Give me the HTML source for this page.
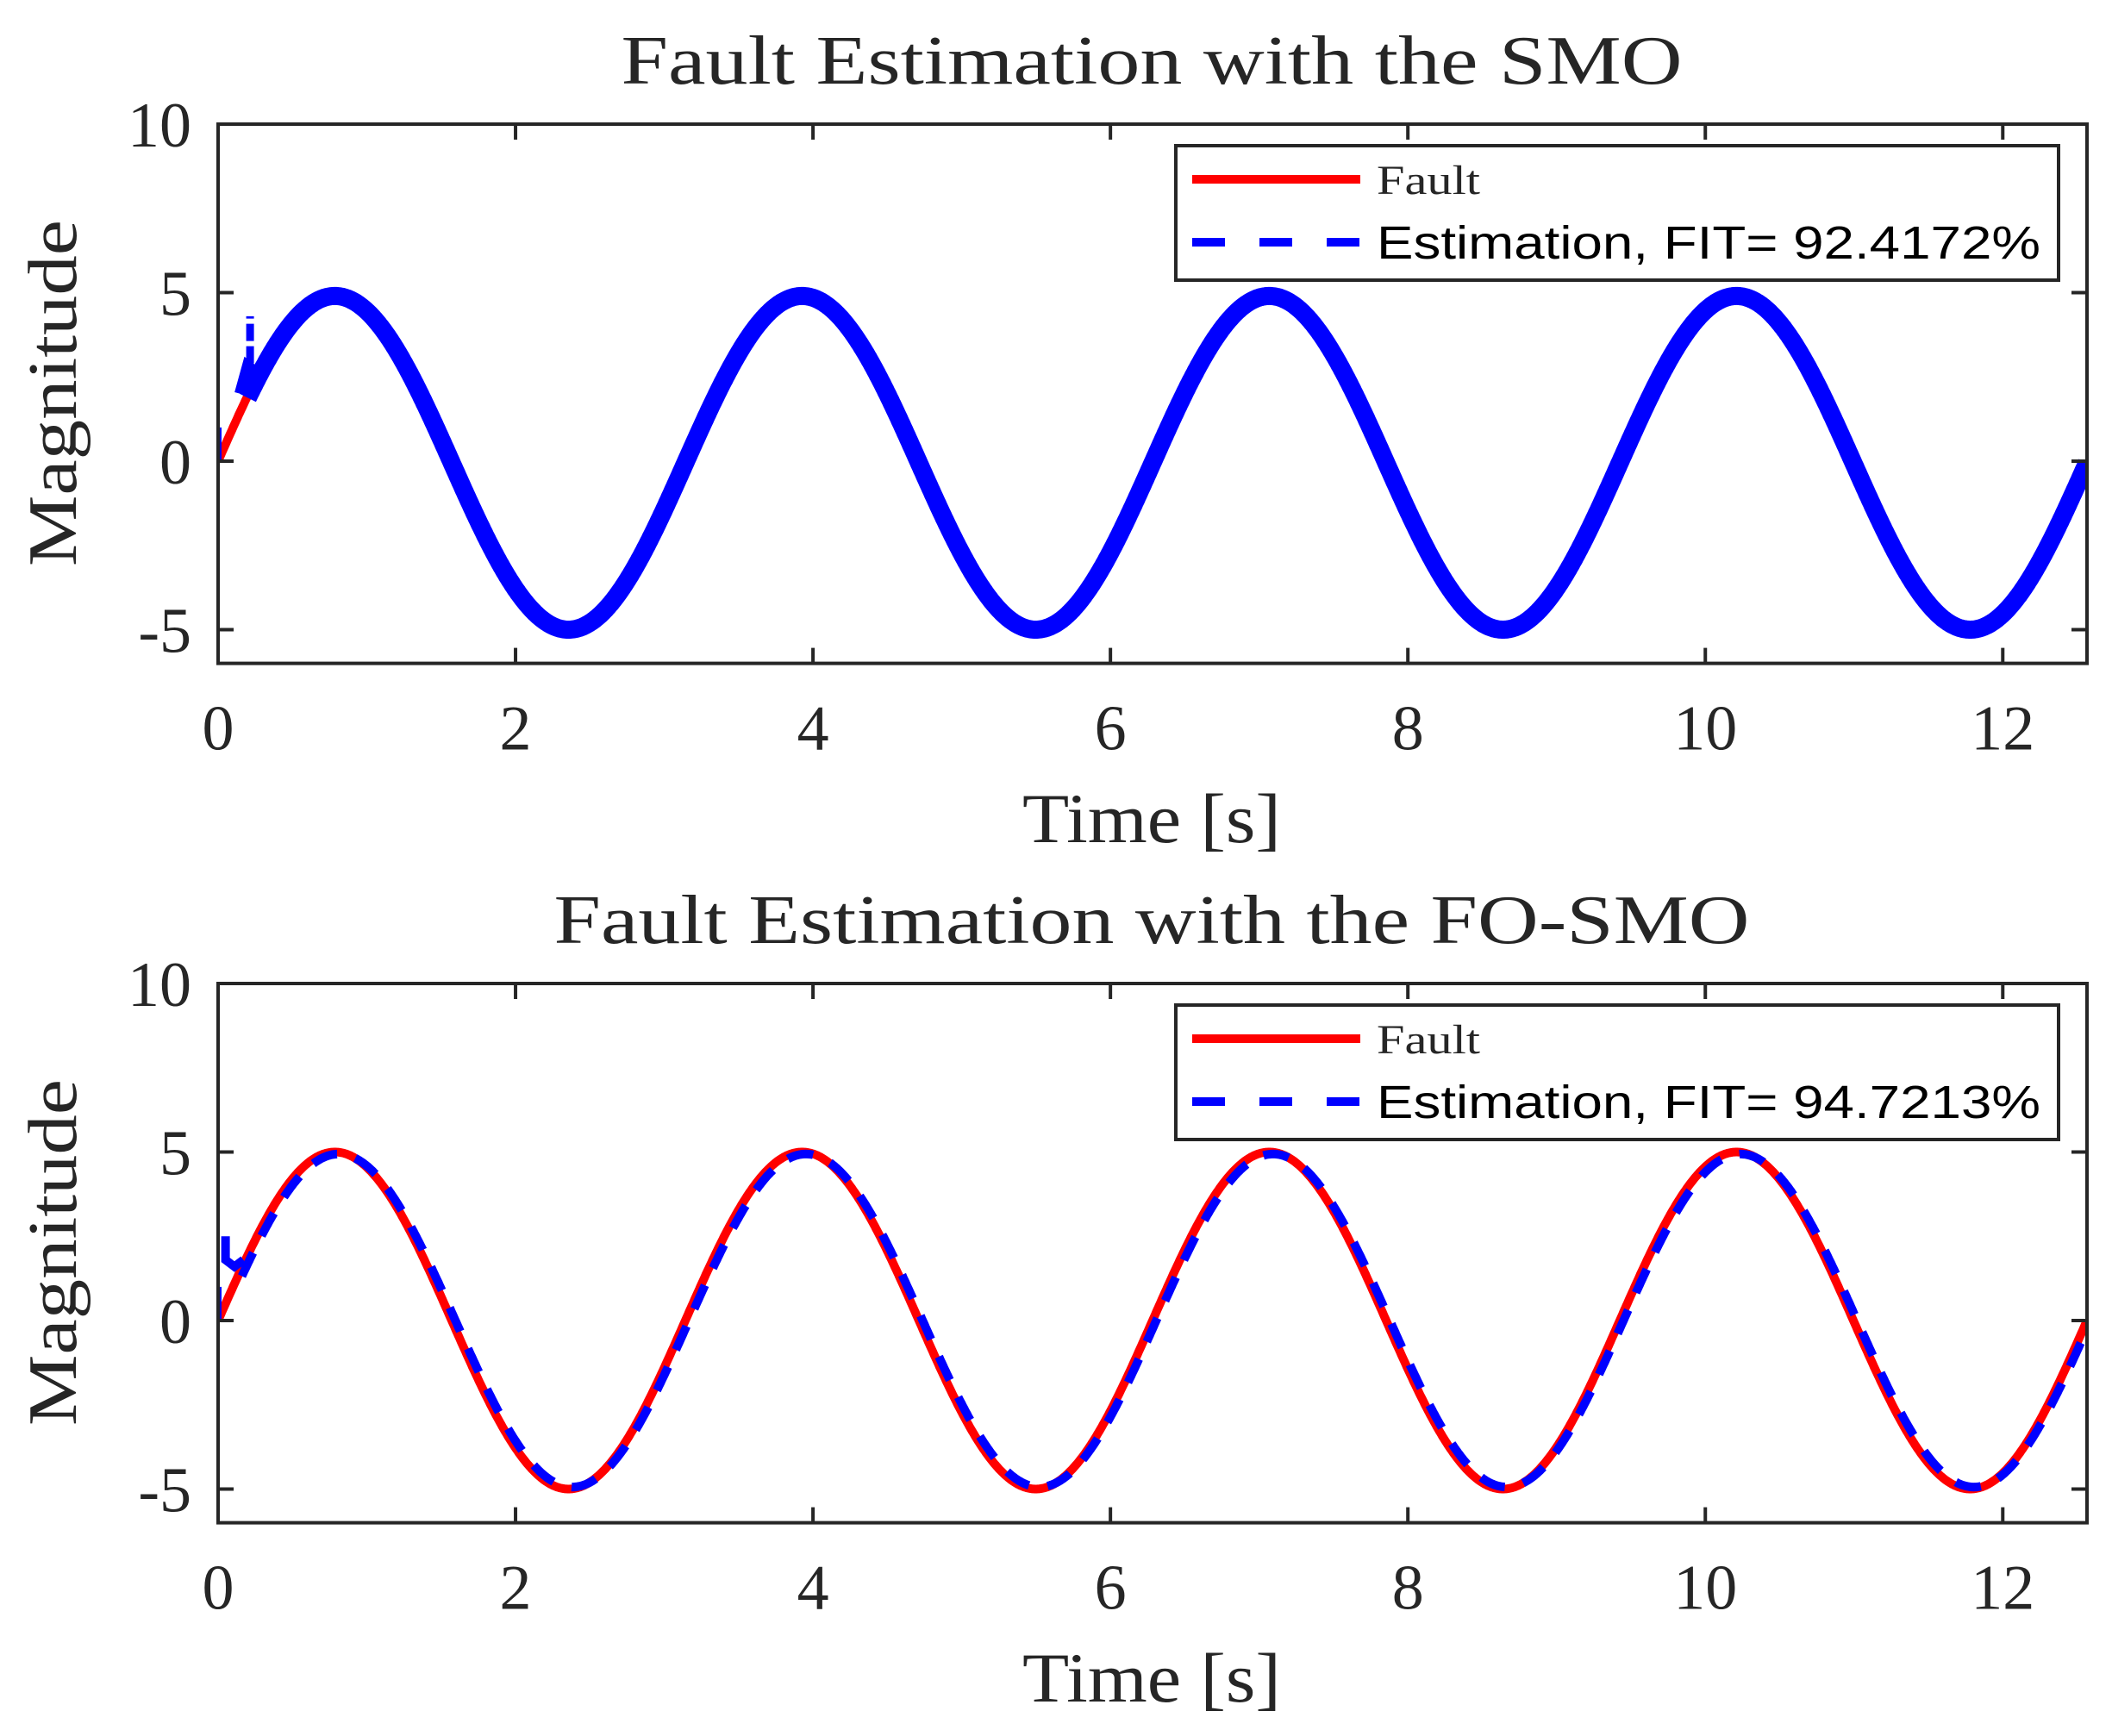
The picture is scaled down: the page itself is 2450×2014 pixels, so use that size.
<!DOCTYPE html>
<html><head><meta charset="utf-8"><style>
html,body{margin:0;padding:0;background:#fff;}
svg{display:block;}
.serif{font-family:"Liberation Serif","DejaVu Serif",serif;fill:#262626;}
.sans{font-family:"Liberation Sans","DejaVu Sans",sans-serif;fill:#000;}
</style></head><body>
<svg id="s" width="2450" height="2014" viewBox="0 0 2450 2014" xmlns="http://www.w3.org/2000/svg">
<rect width="2450" height="2014" fill="#fff"/>
<g id="g1"></g>
<g id="g2"></g>
</svg>
<script>
var NS="http://www.w3.org/2000/svg";
function el(p,t,a,txt){var e=document.createElementNS(NS,t);for(var k in a)e.setAttribute(k,a[k]);if(txt!==undefined)e.textContent=txt;p.appendChild(e);return e;}
var X0=253,X1=2421,XS=(X1-X0)/(4*Math.PI);
function panel(g,top,title,titleW,fit,mode){
  var YS=39.1;var bot=top+16*YS;
  function px(t){return X0+t*XS;} function py(v){return top+(10-v)*YS;}
  var id="c"+top;
  var d=el(g,"defs",{});var cp=el(d,"clipPath",{id:id});el(cp,"rect",{x:X0,y:top,width:X1-X0,height:bot-top});
  var cg=el(g,"g",{"clip-path":"url(#"+id+")"});
  var pts=[];for(var i=0;i<=2000;i++){var t=i/2000*4*Math.PI;pts.push(px(t).toFixed(1)+","+py(5*Math.sin(2*t)).toFixed(1));}
  var fault="M"+pts.join("L");
  if(mode==1){
    el(cg,"path",{d:fault,fill:"none",stroke:"#ff0000","stroke-width":10});
    var e=[];for(var i=0;i<=2000;i++){var t=0.2+i/2000*(4*Math.PI-0.2);e.push(px(t).toFixed(1)+","+py(4.95*Math.sin(2*t)-0.05).toFixed(1));}
    el(cg,"path",{d:"M"+e.join("L"),fill:"none",stroke:"#0000ff","stroke-width":21});
    el(cg,"rect",{x:X0-6,y:py(1),width:10,height:py(0)-py(1),fill:"#0000ff"});
    el(cg,"path",{d:"M"+px(0.15)+","+py(2.0)+"L"+px(0.2)+","+py(2.8)+"L"+px(0.26)+","+py(2.6),fill:"none",stroke:"#0000ff","stroke-width":14});
    el(cg,"path",{d:"M"+px(0.215)+","+py(2.9)+"L"+px(0.215)+","+py(4.3),fill:"none",stroke:"#0000ff","stroke-width":9,"stroke-dasharray":"20,6"});
  }else{
    el(cg,"path",{d:fault,fill:"none",stroke:"#ff0000","stroke-width":10});
    var e=[];for(var i=0;i<=2000;i++){var t=0.16+i/2000*(4*Math.PI-0.16);e.push(px(t).toFixed(1)+","+py(4.94*Math.sin(2*(t-0.025))).toFixed(1));}
    el(cg,"path",{d:"M"+e.join("L"),fill:"none",stroke:"#0000ff","stroke-width":10,"stroke-dasharray":"30,22"});
    el(cg,"rect",{x:X0-6,y:py(1),width:10,height:py(0)-py(1),fill:"#0000ff"});
    el(cg,"path",{d:"M"+px(0.05)+","+py(2.5)+"L"+px(0.05)+","+py(1.8)+"L"+px(0.11)+","+py(1.6)+"L"+px(0.17)+","+py(1.8),fill:"none",stroke:"#0000ff","stroke-width":10});
  }
  el(g,"rect",{x:X0,y:top,width:X1-X0,height:bot-top,fill:"none",stroke:"#262626","stroke-width":4});
  for(var k=0;k<=12;k+=2){var x=px(k);
    el(g,"line",{x1:x,y1:bot,x2:x,y2:bot-18,stroke:"#262626","stroke-width":4});
    el(g,"line",{x1:x,y1:top,x2:x,y2:top+18,stroke:"#262626","stroke-width":4});
    el(g,"text",{x:x,y:bot+100,"text-anchor":"middle","font-size":74,class:"serif"},String(k));}
  [-5,0,5,10].forEach(function(v){var y=py(v);
    el(g,"line",{x1:X0,y1:y,x2:X0+18,y2:y,stroke:"#262626","stroke-width":4});
    el(g,"line",{x1:X1,y1:y,x2:X1-18,y2:y,stroke:"#262626","stroke-width":4});
    el(g,"text",{x:222,y:y+26,"text-anchor":"end","font-size":74,class:"serif"},String(v));});
  el(g,"text",{x:1336,y:top-47,"text-anchor":"middle","font-size":80,class:"serif",textLength:titleW,lengthAdjust:"spacingAndGlyphs"},title);
  el(g,"text",{x:1336,y:top+833,"text-anchor":"middle","font-size":82,class:"serif",textLength:300,lengthAdjust:"spacingAndGlyphs"},"Time [s]");
  el(g,"text",{x:0,y:0,"text-anchor":"middle","font-size":80,class:"serif",transform:"translate(88,"+(top+312)+") rotate(-90)",textLength:402,lengthAdjust:"spacingAndGlyphs"},"Magnitude");
  var ly=top+25;
  el(g,"rect",{x:1364,y:ly,width:1024,height:156,fill:"#fff",stroke:"#262626","stroke-width":4});
  el(g,"line",{x1:1383,y1:ly+39,x2:1578,y2:ly+39,stroke:"#ff0000","stroke-width":10});
  el(g,"line",{x1:1383,y1:ly+112,x2:1578,y2:ly+112,stroke:"#0000ff","stroke-width":10,"stroke-dasharray":"38,40"});
  el(g,"text",{x:1597,y:ly+56,"font-size":48,class:"serif",textLength:120,lengthAdjust:"spacingAndGlyphs"},"Fault");
  el(g,"text",{x:1597,y:ly+131,"font-size":54,class:"sans",textLength:770,lengthAdjust:"spacingAndGlyphs","xml:space":"preserve"},"Estimation,  FIT= "+fit+"%");
}
panel(document.getElementById("g1"),144,"Fault Estimation with the SMO",1231,"92.4172",1);
panel(document.getElementById("g2"),1141,"Fault Estimation with the FO-SMO",1387,"94.7213",2);
</script>
</body></html>
